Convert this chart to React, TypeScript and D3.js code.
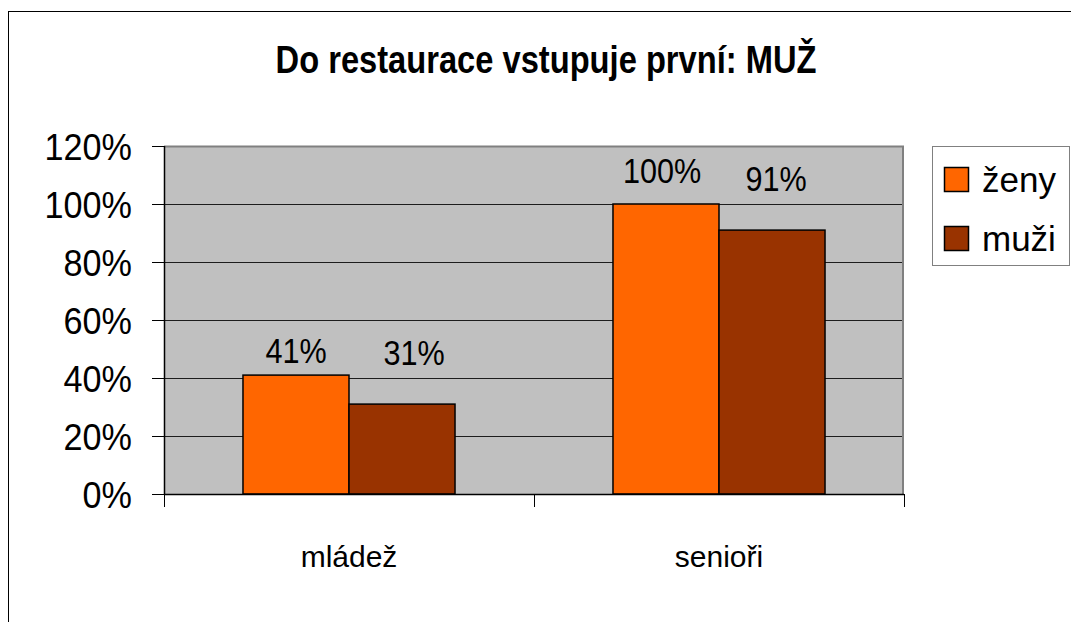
import React from 'react';
import { scaleBand, scaleLinear } from 'd3';

const width = 1071;
const height = 622;

const title = 'Do restaurace vstupuje první: MUŽ';
const categories = ['mládež', 'senioři'];
const seriesNames = ['ženy', 'muži'];
const seriesColors = ['#FF6600', '#993300'];
const zeny = [0.41, 1.0];
const muzi = [0.31, 0.91];
const yTicks = [0, 0.2, 0.4, 0.6, 0.8, 1.0, 1.2];
// data labels were hand-placed in the original, keep their nudges
const labelDx = [[0, 12], [-4, 4]];
const labelDy = [[12, 39], [21, 39]];

const plot = { left: 164, right: 904, top: 146, bottom: 494 };
const font = '"Liberation Sans", Arial, sans-serif';

const y = scaleLinear().domain([0, 1.2]).range([plot.bottom, plot.top]);
const x0 = scaleBand().domain(categories).range([plot.left, plot.right]);
const x1 = scaleBand()
  .domain(seriesNames)
  .range([0, x0.bandwidth()])
  .paddingInner(0)
  .paddingOuter(0.745);

const pct = (v: number) => `${Math.round(v * 100)}%`;

const Txt = ({ x, y, size, sx = 1, anchor = 'middle', bold = false, children }: any) => (
  <text
    transform={`translate(${x},${y}) scale(${sx},1)`}
    textAnchor={anchor}
    fontFamily={font}
    fontSize={size}
    fontWeight={bold ? 'bold' : 'normal'}
    fill="#000"
  >
    {children}
  </text>
);

const App = () => {
  const series = [zeny, muzi];
  return (
    <svg width={width} height={height} style={{ position: 'absolute', left: 0, top: 0 }}>
      <rect x={0} y={0} width={width} height={height} fill="#fff" />
      {/* chart frame, runs off the right and bottom */}
      <rect x={8.5} y={11.5} width={width + 20} height={height + 20} fill="none" stroke="#000" />

      <Txt x={546} y={73} size={38} sx={0.86} bold>
        {title}
      </Txt>

      {/* plot area */}
      <rect
        x={plot.left}
        y={plot.top}
        width={plot.right - plot.left}
        height={plot.bottom - plot.top}
        fill="#C0C0C0"
      />
      <path
        d={`M${plot.left},${plot.top + 0.5}H${plot.right - 1}V${plot.bottom}`}
        fill="none"
        stroke="#808080"
        strokeWidth={2}
      />
      {yTicks.slice(1).map((t) => (
        <line
          key={t}
          x1={plot.left}
          x2={plot.right - 2}
          y1={Math.round(y(t)) + 0.5}
          y2={Math.round(y(t)) + 0.5}
          stroke="#000"
          strokeOpacity={t === 1.2 ? 0 : 0.85}
        />
      ))}

      {/* bars */}
      {categories.map((c, ci) => (
        <g key={c} transform={`translate(${x0(c)},0)`}>
          {seriesNames.map((s, si) => {
            const v = series[si][ci];
            const bx = x1(s)!;
            return (
              <rect
                key={s}
                x={bx}
                y={y(v)}
                width={x1.bandwidth()}
                height={y(0) - y(v)}
                fill={seriesColors[si]}
                stroke="#000"
                strokeWidth={1.5}
              />
            );
          })}
        </g>
      ))}

      {/* data labels */}
      {categories.map((c, ci) =>
        seriesNames.map((s, si) => {
          const v = series[si][ci];
          const cx = x0(c)! + x1(s)! + x1.bandwidth() / 2 + labelDx[ci][si];
          return (
            <Txt key={c + s} x={cx} y={y(v) - labelDy[ci][si]} size={36} sx={0.85}>
              {pct(v)}
            </Txt>
          );
        })
      )}

      {/* y axis */}
      <line x1={plot.left + 0.5} x2={plot.left + 0.5} y1={plot.top} y2={plot.bottom + 1} stroke="#000" strokeWidth={1.5} />
      {yTicks.map((t) => (
        <g key={t}>
          <line
            x1={plot.left - 12}
            x2={plot.left}
            y1={Math.round(y(t)) + 0.5}
            y2={Math.round(y(t)) + 0.5}
            stroke="#000"
          />
          <Txt x={132} y={y(t) + 14} size={36} sx={0.95} anchor="end">
            {pct(t)}
          </Txt>
        </g>
      ))}

      {/* x axis */}
      <line x1={plot.left} x2={plot.right} y1={plot.bottom + 0.5} y2={plot.bottom + 0.5} stroke="#000" strokeWidth={1.5} />
      {[...categories.map((c) => x0(c)!), plot.right].map((tx, i) => (
        <line key={i} x1={Math.round(tx) + 0.5} x2={Math.round(tx) + 0.5} y1={plot.bottom} y2={plot.bottom + 13} stroke="#000" />
      ))}
      {categories.map((c) => (
        <Txt key={c} x={x0(c)! + x0.bandwidth() / 2} y={567} size={30}>
          {c}
        </Txt>
      ))}

      {/* legend */}
      <rect x={932.5} y={146.5} width={137} height={119} fill="#fff" stroke="#808080" />
      {seriesNames.map((s, i) => (
        <g key={s} transform={`translate(944,${167 + i * 59})`}>
          <rect x={0.5} y={0.5} width={24} height={24} fill={seriesColors[i]} stroke="#000" strokeWidth={1.5} />
          <Txt x={38} y={25} size={35} anchor="start">
            {s}
          </Txt>
        </g>
      ))}
    </svg>
  );
};

export default App;
